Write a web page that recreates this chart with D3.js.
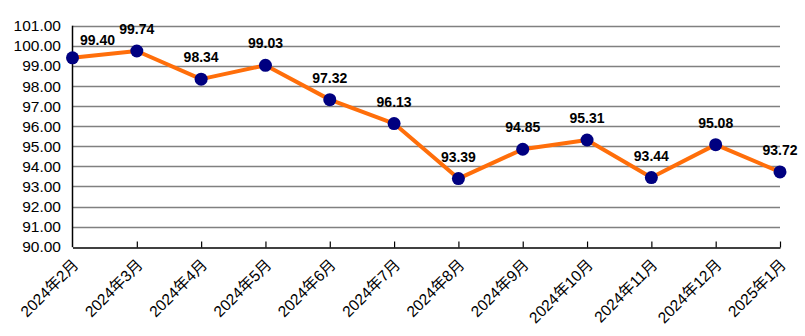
<!DOCTYPE html>
<html><head><meta charset="utf-8">
<script src="https://cdn.jsdelivr.net/npm/d3@7"></script>
<style>
html,body{margin:0;padding:0;background:#fff;}
svg{display:block;}
</style></head>
<body>
<svg id="c" width="805" height="336"></svg>
<script>
const categories = ["2024年2月","2024年3月","2024年4月","2024年5月","2024年6月","2024年7月","2024年8月","2024年9月","2024年10月","2024年11月","2024年12月","2025年1月"];
const values = [99.40, 99.74, 98.34, 99.03, 97.32, 96.13, 93.39, 94.85, 95.31, 93.44, 95.08, 93.72];
const yTicks = [90,91,92,93,94,95,96,97,98,99,100,101];

(function () {
const svg = d3.select("#c");
const mLeft = 72.5, mRight = 780, mTop = 25.7, mBottom = 246.7;

const x = d3.scalePoint().domain(categories).range([mLeft, mRight]);
const y = d3.scaleLinear().domain([90, 101]).range([mBottom, mTop]);

// gridlines
svg.append("g").selectAll("line").data(yTicks.filter(d => d > 90)).join("line")
  .attr("x1", mLeft).attr("x2", mRight)
  .attr("y1", d => Math.round(y(d)) + 0.5).attr("y2", d => Math.round(y(d)) + 0.5)
  .attr("stroke", "#808080").attr("stroke-width", 1.5);

// y tick labels
svg.append("g").selectAll("text").data(yTicks).join("text")
  .attr("x", 61).attr("y", d => y(d)).attr("dy", "0.36em")
  .attr("text-anchor", "end")
  .attr("font-family", "'Liberation Sans', Arial, sans-serif")
  .attr("font-size", 15.5).attr("fill", "#000")
  .text(d => d.toFixed(2));

// x axis with inward ticks
const xAxis = d3.axisBottom(x).tickSizeInner(-6).tickSizeOuter(0).tickFormat("");
const gx = svg.append("g").attr("transform", `translate(0,${Math.round(mBottom)+0.5})`).call(xAxis);
gx.select(".domain").attr("stroke", "#000").attr("stroke-width", 1.5);
gx.selectAll(".tick line").attr("stroke", "#000").attr("stroke-width", 1.2);
gx.selectAll(".tick").filter((d, i) => i === 0).remove();

// y axis line
svg.append("line").attr("x1", mLeft).attr("x2", mLeft).attr("y1", mTop).attr("y2", mBottom + 0.5)
  .attr("stroke", "#000").attr("stroke-width", 1.5);

// x labels rotated
svg.append("g").selectAll("text").data(categories).join("text")
  .attr("transform", d => `translate(${x(d) + 7},${mBottom + 19}) rotate(-45)`)
  .attr("text-anchor", "end")
  .attr("font-family", "'Liberation Sans', 'Noto Sans CJK SC', Arial, sans-serif")
  .attr("font-size", 15.5).attr("fill", "#000")
  .text(d => d);

// line
const line = d3.line().x((d, i) => x(categories[i])).y(d => y(d));
svg.append("path").datum(values).attr("d", line)
  .attr("fill", "none").attr("stroke", "#FF6E0A").attr("stroke-width", 4)
  .attr("stroke-linejoin", "round");

// markers
svg.append("g").selectAll("circle").data(values).join("circle")
  .attr("cx", (d, i) => x(categories[i])).attr("cy", d => y(d)).attr("r", 6.5)
  .attr("fill", "#000080");

// data labels
svg.append("g").selectAll("text").data(values).join("text")
  .attr("x", (d, i) => x(categories[i]) + (i === 0 ? 25 : 0))
  .attr("y", (d, i) => y(d) - (i === 0 ? 13 : 17))
  .attr("text-anchor", "middle")
  .attr("font-family", "'Liberation Sans', Arial, sans-serif")
  .attr("font-weight", "bold").attr("font-size", 14).attr("fill", "#000")
  .text(d => d.toFixed(2));
})();
</script>
</body></html>
